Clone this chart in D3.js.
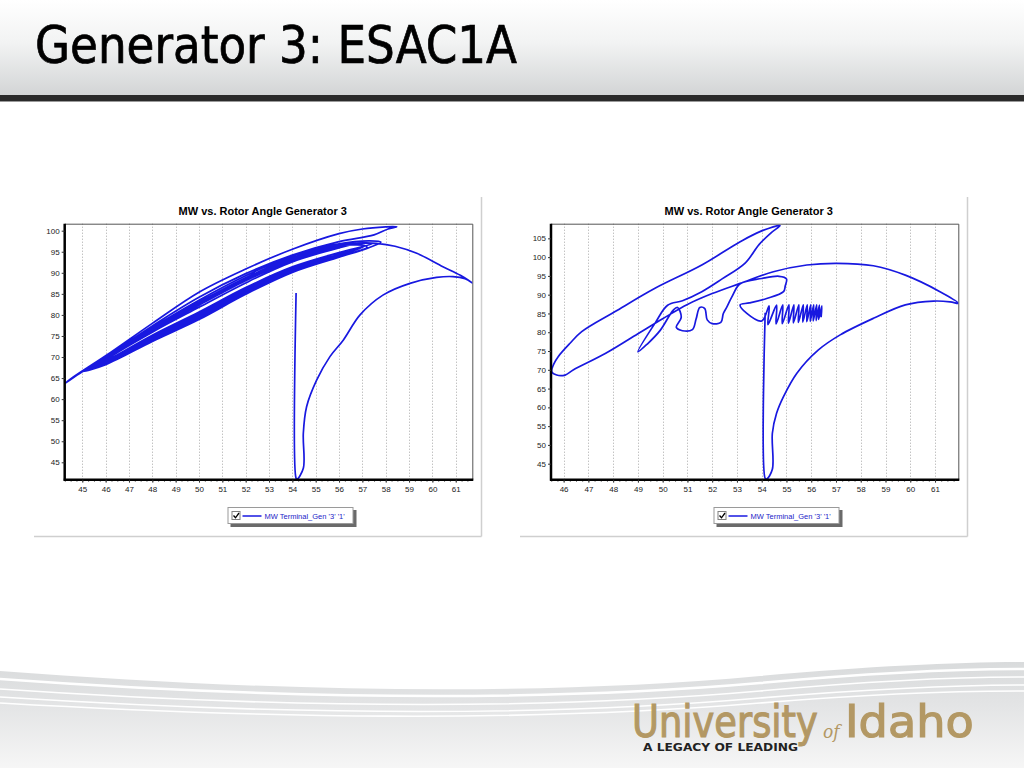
<!DOCTYPE html>
<html>
<head>
<meta charset="utf-8">
<script src="https://cdn.jsdelivr.net/npm/d3@7"></script>
<style>
  html, body { margin: 0; padding: 0; background: #fff; }
  svg { display: block; }
  .tick text { font-family: "Liberation Sans", Arial, sans-serif; font-size: 8px; fill: #222; }
</style>
</head>
<body>
<div id="slide"></div>
<script>
// ---- data (rotor angle in degrees, MW) ----
const slideTitle = "Generator 3: ESAC1A"
const chartTitle = "MW vs. Rotor Angle Generator 3"
const legendLabel = "MW Terminal_Gen '3' '1'"

const leftXTicks = [45, 46, 47, 48, 49, 50, 51, 52, 53, 54, 55, 56, 57, 58, 59, 60, 61]
const leftYTicks = [45, 50, 55, 60, 65, 70, 75, 80, 85, 90, 95, 100]
const rightXTicks = [46, 47, 48, 49, 50, 51, 52, 53, 54, 55, 56, 57, 58, 59, 60, 61]
const rightYTicks = [45, 50, 55, 60, 65, 70, 75, 80, 85, 90, 95, 100, 105]

// left chart: fault, first swing out and back
const leftFault = [[54.16, 85.2], [54.16, 41.2], [54.2, 41.0], [54.47, 43.6], [54.47, 51.9], [54.61, 58.2],
    [55.04, 64.5], [55.61, 70.1], [56.18, 74.0], [56.9, 80.0], [57.88, 84.7], [59.04, 87.5],
    [60.18, 88.9], [60.88, 89.1], [61.4, 88.6], [61.71, 87.6]]
const leftBack = [[61.2, 89.4], [60.45, 91.45], [59.33, 94.63], [58.4, 96.3], [57.6, 97.0], [57.0, 97.1],
    [56.0, 96.5], [54.0, 93.5], [52.0, 88.7], [50.0, 82.8], [48.0, 76.5], [46.0, 69.6], [45.0, 66.5], [44.25, 63.7]]
// left chart: the damped swings that follow
const leftSwings = [
    [[44.6, 65.2], [46.0, 70.3], [48.0, 78.0], [50.0, 85.4], [52.0, 90.9], [54.0, 95.6], [56.0, 99.3], [57.0, 100.4], [58.0, 100.9], [58.47, 100.95]],
    [[58.1, 100.4], [57.5, 99.0], [56.0, 97.4], [54.0, 94.2], [52.0, 89.8], [50.0, 84.2], [48.0, 77.4], [46.0, 70.0], [45.0, 66.6]],
    [[46.0, 68.2], [48.0, 73.7], [50.0, 78.9], [52.0, 84.9], [54.0, 90.1], [56.0, 93.7], [57.2, 95.8], [57.8, 97.3]],
    [[57.3, 97.6], [56.0, 96.9], [54.0, 94.0], [52.0, 89.3], [50.0, 83.5], [48.0, 77.0], [46.0, 69.9], [45.3, 67.0]],
    [[46.0, 69.0], [48.0, 75.2], [50.0, 80.7], [52.0, 86.5], [54.0, 91.4], [56.0, 94.8], [57.4, 96.9]],
    [[56.8, 96.9], [56.0, 95.9], [54.0, 92.6], [52.0, 87.6], [50.0, 81.8], [48.0, 75.9], [46.0, 69.3], [45.6, 67.6]],
    [[46.0, 68.5], [48.0, 74.3], [50.0, 79.6], [52.0, 85.4], [54.0, 90.5], [56.0, 94.1], [57.1, 96.4]],
    [[56.6, 96.6], [56.0, 96.4], [54.0, 93.3], [52.0, 88.4], [50.0, 82.6], [48.0, 76.4], [46.0, 69.6], [45.5, 67.3]],
    [[46.0, 68.8], [48.0, 74.8], [50.0, 80.3], [52.0, 86.1], [54.0, 91.0], [56.0, 94.4], [57.0, 96.2]],
    [[56.9, 97.0], [56.0, 96.2], [54.0, 93.0], [52.0, 88.1], [50.0, 82.3], [48.0, 76.2], [46.0, 69.5], [45.7, 67.9]],
    [[46.0, 68.4], [48.0, 74.0], [50.0, 79.3], [52.0, 85.2], [54.0, 90.3], [56.0, 93.9], [57.2, 96.1]],
    [[56.7, 96.8], [56.0, 96.6], [54.0, 93.6], [52.0, 88.8], [50.0, 83.0], [48.0, 76.6], [46.0, 69.7], [45.8, 68.2]],
    [[46.0, 68.7], [48.0, 74.6], [50.0, 80.0], [52.0, 85.8], [54.0, 90.8], [56.0, 94.3], [56.9, 95.9]]
]

// right chart
const rightFault = [[54.14, 85.2], [54.14, 41.1], [54.2, 40.9], [54.43, 43.5], [54.43, 53.1], [54.6, 58.4],
    [54.88, 62.85], [55.42, 69.1], [56.29, 75.3], [57.17, 79.3], [58.51, 83.7], [59.8, 87.3],
    [60.94, 88.3], [61.61, 88.1], [61.95, 87.7]]
const rightBack = [[61.2, 90.8], [59.8, 95.2], [58.51, 97.7], [57.03, 98.36], [55.82, 97.9], [54.47, 96.1],
    [53.13, 93.0], [52.0, 90.3], [51.0, 87.4], [50.0, 83.6], [49.0, 79.6], [47.7, 74.4], [46.4, 70.0],
    [46.06, 68.6], [45.72, 68.6], [45.52, 69.5]]
const rightLoop = [[45.6, 71.5], [45.78, 73.5], [46.26, 77.07], [46.73, 80.15], [48.08, 85.5], [49.69, 91.7],
    [51.58, 97.9], [53.13, 104.1], [53.93, 106.8], [54.74, 108.4], [54.4, 106.6], [53.9, 103.4],
    [53.33, 98.4], [52.4, 94.2], [51.58, 90.8], [50.8, 88.4], [50.2, 87.2], [49.7, 82.5], [49.0, 74.8]]
const rightWobble = [[49.4, 77.0], [49.9, 80.5], [50.43, 85.9], [50.6, 86.6], [50.75, 84.0], [50.55, 81.3],
    [50.8, 80.4], [51.2, 80.7], [51.35, 83.5], [51.5, 86.6], [51.7, 86.3], [51.8, 83.3], [52.0, 82.3],
    [52.35, 82.6], [52.45, 85.0], [52.6, 86.8], [52.8, 89.5], [53.13, 92.9], [54.0, 94.3], [54.7, 94.9],
    [55.0, 94.2], [54.95, 92.3], [54.88, 90.8], [54.2, 89.0], [53.5, 87.8], [53.13, 87.3], [53.4, 85.0],
    [54.0, 83.0]]
const rightSaw = [[54.3, 87.0], [54.25, 82.0], [54.6, 87.2], [54.58, 82.2], [54.85, 87.3], [54.83, 82.3],
    [55.1, 87.3], [55.08, 82.4], [55.3, 87.3], [55.28, 82.5], [55.5, 87.3], [55.48, 82.6], [55.68, 87.3],
    [55.66, 82.7], [55.84, 87.3], [55.82, 82.8], [55.98, 87.3], [55.96, 82.9], [56.1, 87.3], [56.08, 83.0],
    [56.22, 87.3], [56.2, 83.1], [56.33, 87.2], [56.3, 83.4], [56.43, 87.0], [56.4, 84.0]]

const lineBlue = "#1818e0"

const svg = d3.select("#slide").append("svg")
    .attr("width", 1024)
    .attr("height", 768)

const defs = svg.append("defs")

// header background
const hg = defs.append("linearGradient").attr("id", "headGrad").attr("x1", 0).attr("y1", 0).attr("x2", 0).attr("y2", 1)
hg.append("stop").attr("offset", "0%").attr("stop-color", "#ffffff")
hg.append("stop").attr("offset", "45%").attr("stop-color", "#f2f3f3")
hg.append("stop").attr("offset", "100%").attr("stop-color", "#d3d5d6")
svg.append("rect").attr("x", 0).attr("y", 0).attr("width", 1024).attr("height", 95).attr("fill", "url(#headGrad)")
svg.append("rect").attr("x", 0).attr("y", 95).attr("width", 1024).attr("height", 6).attr("fill", "#2a2a2a")
svg.append("rect").attr("x", 0).attr("y", 101).attr("width", 1024).attr("height", 1).attr("fill", "#9a9a9a")

svg.append("text")
    .attr("x", 35).attr("y", 63)
    .attr("font-family", "'DejaVu Sans Condensed', 'DejaVu Sans', sans-serif")
    .attr("font-size", 52)
    .attr("textLength", 482)
    .attr("lengthAdjust", "spacingAndGlyphs")
    .attr("fill", "#000")
    .attr("stroke", "#000").attr("stroke-width", 0.7)
    .text(slideTitle)

// footer swoosh
const fg = defs.append("linearGradient").attr("id", "footGrad").attr("x1", 0).attr("y1", 0).attr("x2", 0).attr("y2", 1)
fg.append("stop").attr("offset", "0%").attr("stop-color", "#d9dbdc")
fg.append("stop").attr("offset", "40%").attr("stop-color", "#e3e4e5")
fg.append("stop").attr("offset", "100%").attr("stop-color", "#f6f6f6")
svg.append("path")
    .attr("d", "M0,671 C250,690 520,698 760,676 C870,666 960,662 1024,662 L1024,768 L0,768 Z")
    .attr("fill", "url(#footGrad)")
const swooshLines = [
    "M0,679 C250,697 520,704 760,683 C870,673 960,669 1024,669",
    "M0,689 C250,706 520,712 760,691 C870,681 960,677 1024,677",
    "M0,697 C250,713 520,719 760,698 C870,689 960,685 1024,685",
    "M0,703 C260,718 520,723 760,703 C870,694 960,691 1024,691"
]
svg.selectAll("path.swoosh").data(swooshLines).join("path")
    .attr("class", "swoosh")
    .attr("d", d => d)
    .attr("fill", "none")
    .attr("stroke", "#ffffff")
    .attr("stroke-width", (d, i) => i === 0 ? 2.5 : 1.6)

// logo (horizontally squeezed with a transform so the text boxes keep their drawn width)
const gold = "#b39864"
function logoText(str, x, yb, size, sx, family, style) {
    return svg.append("text")
        .attr("transform", `translate(${x},${yb}) scale(${sx},1)`)
        .attr("font-family", family).attr("font-size", size)
        .attr("font-style", style || "normal")
        .attr("fill", gold)
        .text(str)
}
logoText("University", 632, 737, 45, 0.91, "'DejaVu Sans Condensed', sans-serif")
    .attr("stroke", gold).attr("stroke-width", 1.1)
logoText("of", 823, 738, 18, 0.95, "'DejaVu Serif', serif", "italic")
logoText("Idaho", 845, 737, 45, 1.14, "'DejaVu Sans Condensed', sans-serif")
    .attr("stroke", gold).attr("stroke-width", 1.1)
svg.append("text").attr("x", 643).attr("y", 751)
    .attr("font-family", "'DejaVu Sans Condensed', sans-serif").attr("font-size", 10).attr("font-weight", "bold")
    .attr("textLength", 155).attr("lengthAdjust", "spacingAndGlyphs")
    .attr("fill", "#222").text("A LEGACY OF LEADING")

const line = d3.line()
    .curve(d3.curveCatmullRom.alpha(0.5))

function drawChart(cfg) {
    const g = svg.append("g")

    // panel edges
    g.append("line").attr("x1", cfg.panel[2]).attr("x2", cfg.panel[2]).attr("y1", cfg.panel[1]).attr("y2", cfg.panel[3])
        .attr("stroke", "#cfcfcf").attr("stroke-width", 1.5)
    g.append("line").attr("x1", cfg.panel[0]).attr("x2", cfg.panel[2]).attr("y1", cfg.panel[3]).attr("y2", cfg.panel[3])
        .attr("stroke", "#cfcfcf").attr("stroke-width", 1.5)

    g.append("text")
        .attr("x", (cfg.panel[0] + cfg.panel[2]) / 2 + 5).attr("y", 215)
        .attr("text-anchor", "middle")
        .attr("font-family", "'Liberation Sans', Arial, sans-serif")
        .attr("font-size", 11).attr("font-weight", "bold")
        .text(chartTitle)

    const x = d3.scaleLinear().domain(cfg.xDomain).range([cfg.left, cfg.right])
    const y = d3.scaleLinear().domain(cfg.yDomain).range([cfg.bottom, cfg.top])

    // vertical grid
    g.selectAll("line.grid").data(cfg.xTicks).join("line")
        .attr("class", "grid")
        .attr("x1", d => Math.round(x(d)) + 0.5).attr("x2", d => Math.round(x(d)) + 0.5)
        .attr("y1", cfg.top).attr("y2", cfg.bottom)
        .attr("stroke", "#a8a8a8").attr("stroke-dasharray", "1,2")

    // top / right frame
    g.append("path")
        .attr("d", `M${cfg.left},${cfg.top + 0.5}H${cfg.right + 0.5}V${cfg.bottom}`)
        .attr("fill", "none").attr("stroke", "#555").attr("stroke-width", 1)

    const clipId = "clip" + cfg.id
    defs.append("clipPath").attr("id", clipId)
        .append("rect").attr("x", cfg.left).attr("y", cfg.top).attr("width", cfg.right - cfg.left).attr("height", cfg.bottom - cfg.top)

    const pts = cfg.series.map(d => [x(d[0]), y(d[1])])
    g.append("path")
        .attr("clip-path", `url(#${clipId})`)
        .attr("d", line(pts))
        .attr("fill", "none")
        .attr("stroke", lineBlue)
        .attr("stroke-width", 1.7)
        .attr("stroke-linejoin", "round")

    // minor ticks on x
    const minor = d3.range(Math.ceil(cfg.xDomain[0] * 4) / 4, cfg.xDomain[1], 0.25)
    g.append("g").attr("transform", `translate(0,${cfg.bottom})`)
        .call(d3.axisBottom(x).tickValues(minor).tickSize(2).tickFormat(""))
        .call(a => a.select(".domain").remove())
        .selectAll("line").attr("stroke", "#555")

    const xa = g.append("g").attr("transform", `translate(0,${cfg.bottom})`)
        .call(d3.axisBottom(x).tickValues(cfg.xTicks).tickSize(3).tickPadding(4).tickSizeOuter(0))
    const ya = g.append("g").attr("transform", `translate(${cfg.left},0)`)
        .call(d3.axisLeft(y).tickValues(cfg.yTicks).tickSize(3).tickPadding(2).tickSizeOuter(0))
    ;[xa, ya].forEach(a => {
        a.select(".domain").attr("stroke", "#000").attr("stroke-width", 2.5)
        a.selectAll(".tick line").attr("stroke", "#333")
    })
    xa.select(".domain").attr("d", `M${cfg.left - 1},0H${cfg.right + 1}`)
    ya.select(".domain").attr("d", `M0,${cfg.top}V${cfg.bottom + 1}`)

    // legend
    const lg = g.append("g").attr("transform", `translate(${cfg.legendX},507)`)
    lg.append("rect").attr("x", 3).attr("y", 3).attr("width", 126).attr("height", 17).attr("fill", "#6a6a6a")
    lg.append("rect").attr("x", 0.5).attr("y", 0.5).attr("width", 125).attr("height", 16)
        .attr("fill", "#fff").attr("stroke", "#9a9a9a")
    lg.append("rect").attr("x", 4.5).attr("y", 4.5).attr("width", 8).attr("height", 8)
        .attr("fill", "#fff").attr("stroke", "#808080")
    lg.append("path").attr("d", "M6,8.5 L8,10.8 L11.5,6").attr("fill", "none").attr("stroke", "#000").attr("stroke-width", 1.3)
    lg.append("line").attr("x1", 15).attr("x2", 34).attr("y1", 9).attr("y2", 9).attr("stroke", lineBlue).attr("stroke-width", 1.5)
    lg.append("text").attr("x", 37).attr("y", 11.8)
        .attr("font-family", "'Liberation Sans', Arial, sans-serif").attr("font-size", 7.5)
        .attr("fill", "#2424c8")
        .text(legendLabel)
}

drawChart({
    id: "L",
    panel: [34, 197, 481.5, 536.5],
    left: 64.7, right: 472.3, top: 223.7, bottom: 479.7,
    xDomain: [44.246, 61.71], yDomain: [40.87, 101.66],
    xTicks: leftXTicks, yTicks: leftYTicks,
    series: [].concat(leftFault, leftBack, ...leftSwings),
    legendX: 227.5
})

drawChart({
    id: "R",
    panel: [520, 197, 967.5, 536.5],
    left: 551, right: 958.3, top: 223.7, bottom: 479.7,
    xDomain: [45.49, 61.94], yDomain: [40.74, 108.9],
    xTicks: rightXTicks, yTicks: rightYTicks,
    series: [].concat(rightFault, rightBack, rightLoop, rightWobble, rightSaw),
    legendX: 713.5
})
</script>
</body>
</html>
